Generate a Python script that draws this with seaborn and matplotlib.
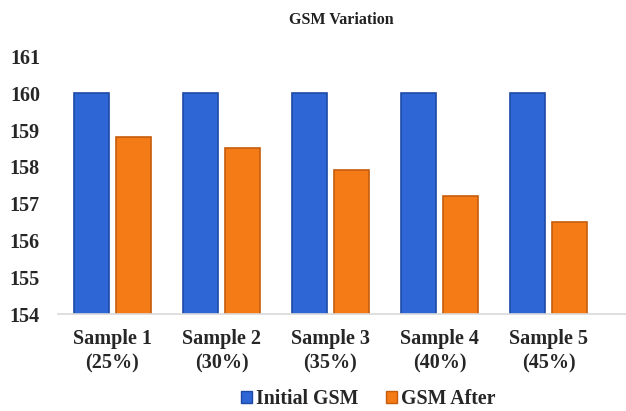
import matplotlib
matplotlib.use("Agg")
import matplotlib.pyplot as plt
import seaborn as sns
import pandas as pd
from matplotlib.patches import Patch

categories = ["Sample 1\n(25%)", "Sample 2\n(30%)", "Sample 3\n(35%)", "Sample 4\n(40%)", "Sample 5\n(45%)"]
initial_gsm = [160, 160, 160, 160, 160]
gsm_after = [158.8, 158.5, 157.9, 157.2, 156.5]
series_names = ["Initial GSM", "GSM After"]
y_ticks = [154, 155, 156, 157, 158, 159, 160, 161]

df = pd.DataFrame({
    "cat": categories * 2,
    "val": initial_gsm + gsm_after,
    "series": [series_names[0]] * len(categories) + [series_names[1]] * len(categories),
})

sns.set_theme(style="white")
plt.rcParams["font.family"] = ["Liberation Serif", "DejaVu Serif"]
plt.rcParams["font.weight"] = "bold"

fig = plt.figure(figsize=(6.26, 4.11), dpi=100)
W, H = 626, 411
ax = fig.add_axes([58 / W, 1 - 314 / H, (626 - 58) / W, (314 - 56.4) / H])

colors = {"Initial GSM": "#2F66D6", "GSM After": "#F47B16"}
edges = {"Initial GSM": "#1E4AA6", "GSM After": "#C65C0C"}
sns.barplot(data=df, x="cat", y="val", hue="series", palette=colors,
            width=0.77, gap=0.17, ax=ax, legend=False, saturation=1)

n = len(categories)
for i, p in enumerate(ax.patches[:2 * n]):
    s = series_names[i // n]
    p.set_edgecolor(edges[s])
    p.set_linewidth(1.2)

ax.set_ylim(154, 161)
ax.set_xlim(-0.5, 4.5 + (626 - 603) / 109)
ax.set_yticks(y_ticks)
ax.set_yticklabels([str(t) for t in y_ticks], fontsize=14.5, fontweight="bold")
ax.tick_params(axis="y", length=0, pad=13)
ax.tick_params(axis="x", length=0, pad=11)
for lbl in ax.get_xticklabels():
    lbl.set_fontsize(14.5)
    lbl.set_fontweight("bold")
    lbl.set_linespacing(1.25)
    lbl.set_color("#262626")
for lbl in ax.get_yticklabels():
    lbl.set_color("#262626")
ax.set_xlabel("")
ax.set_ylabel("")
for sp in ["top", "right", "left"]:
    ax.spines[sp].set_visible(False)
ax.spines["bottom"].set_color("#d9d9d9")
ax.spines["bottom"].set_linewidth(1.2)

fig.text(341 / W, 1 - 20 / H, "GSM Variation", ha="center", va="center",
         fontsize=11.5, fontweight="bold", color="#222222")

handles = [Patch(facecolor=colors[s], edgecolor=edges[s], label=s) for s in series_names]
leg = fig.legend(handles=handles, loc="center", bbox_to_anchor=(368 / W, 1 - 399 / H),
                 ncol=2, frameon=False, handlelength=0.55, handleheight=0.55,
                 handletextpad=0.2, columnspacing=1.4, borderaxespad=0, borderpad=0,
                 prop={"weight": "bold", "size": 14.3})
for t in leg.get_texts():
    t.set_color("#262626")

fig.savefig("out.png", dpi=100)
